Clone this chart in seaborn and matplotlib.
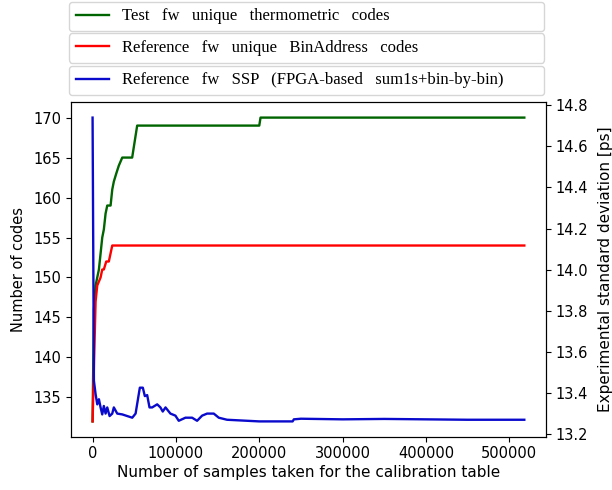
import matplotlib
matplotlib.use("Agg")
import matplotlib.pyplot as plt
import seaborn as sns
import pandas as pd
from matplotlib.font_manager import FontProperties

# ---- data ----
green_x = [0, 1600, 3600, 5600, 7600, 9600, 11600, 13500, 15600, 17600, 21600,
           23600, 25500, 28400, 31500, 35600, 47500, 53500, 200000, 201500, 518000]
green_y = [132, 146, 149, 150, 151, 153, 155, 156, 158, 159, 159,
           161, 162, 163, 164, 165, 165, 169, 169, 170, 170]

red_x = [0, 3600, 5600, 9600, 11600, 13500, 16400, 19500, 23600, 518000]
red_y = [132, 147, 149, 150, 151, 151, 152, 152, 154, 154]

blue_x = [0, 1600, 3600, 5600, 7600, 9600, 11600, 13500, 15600, 17600, 20400,
          23600, 25500, 29600, 35600, 41600, 47600, 51600, 56700, 60300, 62700,
          65500, 68300, 71500, 77500, 81400, 84200, 87500, 93400, 99400, 103400,
          111400, 119400, 125400, 131400, 137400, 145400, 151400, 161300, 200000,
          240000, 241500, 250000, 300000, 350000, 400000, 450000, 518000]
blue_y = [14.74, 13.46, 13.395, 13.345, 13.37, 13.33, 13.296, 13.337, 13.30, 13.33, 13.288,
          13.30, 13.33, 13.30, 13.296, 13.288, 13.28, 13.30, 13.426, 13.426, 13.385,
          13.39, 13.33, 13.33, 13.345, 13.33, 13.31, 13.33, 13.30, 13.29, 13.265,
          13.28, 13.28, 13.265, 13.29, 13.30, 13.30, 13.28, 13.27, 13.262,
          13.262, 13.272, 13.275, 13.272, 13.274, 13.272, 13.27, 13.27]

labels = ["Test   fw   unique   thermometric   codes",
          "Reference   fw   unique   BinAddress   codes",
          "Reference   fw   SSP   (FPGA-based   sum1s+bin-by-bin)"]

x_label = "Number of samples taken for the calibration table"
y_label = "Number of codes"
y2_label = "Experimental standard deviation [ps]"

# ---- plot ----
plt.rcParams['font.family'] = ['DejaVu Sans']
plt.rcParams['font.size'] = 10.5

fig = plt.figure(figsize=(6.12, 4.9), dpi=100)
ax = fig.add_axes([0.116, 0.109, 0.892 - 0.116, 0.791 - 0.109])
ax2 = ax.twinx()

df_g = pd.DataFrame({"x": green_x, "y": green_y})
df_r = pd.DataFrame({"x": red_x, "y": red_y})
df_b = pd.DataFrame({"x": blue_x, "y": blue_y})

sns.lineplot(data=df_g, x="x", y="y", ax=ax, color="#006400", linewidth=1.7,
             legend=False, sort=False)
sns.lineplot(data=df_r, x="x", y="y", ax=ax, color="#ff0000", linewidth=1.7,
             legend=False, sort=False)
sns.lineplot(data=df_b, x="x", y="y", ax=ax2, color="#0a0acc", linewidth=1.7,
             legend=False, sort=False)

h_g = ax.lines[0]
h_r = ax.lines[1]
h_b = ax2.lines[0]

ax.set_xlabel(x_label, fontsize=11, labelpad=3)
ax.set_ylabel(y_label, fontsize=10.5, labelpad=5)
ax2.set_ylabel(y2_label, fontsize=11, labelpad=7)
ax.set_yticks([135, 140, 145, 150, 155, 160, 165, 170])
ax2.set_yticks([13.2, 13.4, 13.6, 13.8, 14.0, 14.2, 14.4, 14.6, 14.8])
ax.set_xticks([0, 100000, 200000, 300000, 400000, 500000])

prop = FontProperties(family="Liberation Serif", size=12)
x0 = 69 / 612
w = (544 - 69) / 612
tops = [1 - 1.7 / 490, 1 - 33.3 / 490, 1 - 65.7 / 490]
for h, lab, top in zip([h_g, h_r, h_b], labels, tops):
    leg = fig.legend(handles=[h], labels=[lab], loc="upper left",
                     bbox_to_anchor=(x0, top, w, 0), mode="expand",
                     borderaxespad=0, prop=prop, frameon=True)

fig.savefig("out.png", dpi=100)
